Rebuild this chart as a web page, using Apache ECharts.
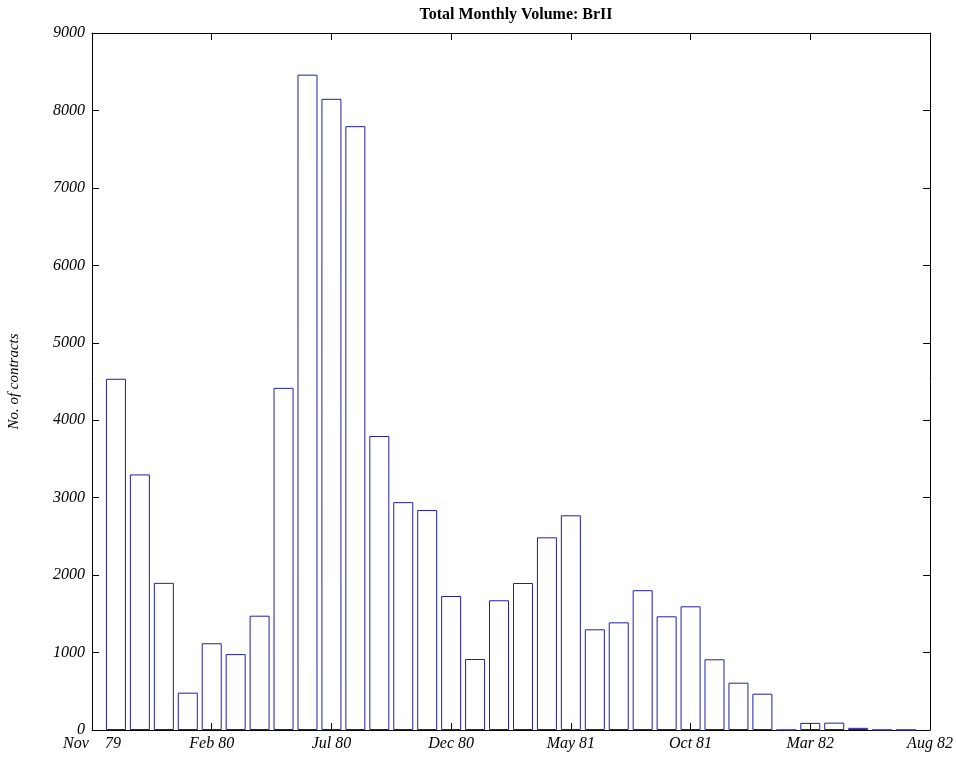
<!DOCTYPE html>
<html>
<head>
<meta charset="utf-8">
<script src="https://cdn.jsdelivr.net/npm/echarts@6/dist/echarts.min.js"></script>
<style>
html,body{margin:0;padding:0;background:#fff;}
#chart{width:956px;height:757px;}
</style>
</head>
<body>
<div id="chart"></div>
<script>
// Month index (1 = first bar) and monthly contract volumes
var months = [1,2,3,4,5,6,7,8,9,10,11,12,13,14,15,16,17,18,19,20,21,22,23,24,25,26,27,28,29,30,31,32,33,34];
var volumes = [4535,3300,1900,482,1120,980,1476,4418,8462,8150,7797,3796,2942,2840,1730,917,1675,1898,2488,2772,1300,1390,1805,1468,1597,913,611,469,0,92,95,28,0,0];
// Tick labels at every 5 months (axis 0..35)
var tickValues = [0,5,10,15,20,25,30,35];
var tickLabels = ['Nov    79','Feb 80','Jul 80','Dec 80','May 81','Oct 81','Mar 82','Aug 82'];

var seriesData = months.map(function(m,i){ return [m, volumes[i]]; });
var labelMap = {};
tickValues.forEach(function(v,i){ labelMap[v] = tickLabels[i]; });

var font = 'Liberation Serif';
var axisLine = {show:true, onZero:false, lineStyle:{color:'#000', width:1}};
var tick = {show:true, inside:true, length:7, lineStyle:{color:'#000', width:1}};

var chart = echarts.init(document.getElementById('chart'), null, {renderer:'canvas'});
chart.setOption({
  animation:false,
  backgroundColor:'#fff',
  title:{
    text:'Total Monthly Volume: BrII',
    left:511, top:2, textAlign:'center',
    textStyle:{fontFamily:font, fontWeight:'bold', fontSize:16, color:'#000'}
  },
  grid:{left:92, right:26, top:33, bottom:27, containLabel:false, outerBoundsMode:'none'},
  xAxis:[{
    type:'value', min:0, max:35, interval:5, position:'bottom',
    axisLine:axisLine, axisTick:tick, splitLine:{show:false},
    axisLabel:{show:true, showMinLabel:true, showMaxLabel:true, margin:6,
      fontFamily:font, fontStyle:'italic', fontSize:16, color:'#000',
      formatter:function(v){ return labelMap[v] !== undefined ? labelMap[v] : ''; }}
  },{
    type:'value', min:0, max:35, interval:5, position:'top',
    axisLine:axisLine, axisTick:tick, splitLine:{show:false}, axisLabel:{show:false}
  }],
  yAxis:[{
    type:'value', min:0, max:9000, interval:1000, position:'left',
    name:'No. of contracts', nameLocation:'middle', nameGap:70, nameRotate:90,
    nameTextStyle:{fontFamily:font, fontStyle:'italic', fontSize:15, color:'#000'},
    axisLine:axisLine, axisTick:tick, splitLine:{show:false},
    axisLabel:{show:true, margin:7, fontFamily:font, fontStyle:'italic', fontSize:16, color:'#000',
      formatter:function(v){ return String(v); }}
  },{
    type:'value', min:0, max:9000, interval:1000, position:'right',
    axisLine:axisLine, axisTick:tick, splitLine:{show:false}, axisLabel:{show:false}
  }],
  series:[{
    type:'bar',
    xAxisIndex:0, yAxisIndex:0,
    data:seriesData,
    barWidth:20,
    itemStyle:{color:'rgba(255,255,255,0)', borderColor:'#1f1fa6', borderWidth:1},
    emphasis:{disabled:true},
    z:1
  }]
});
</script>
</body>
</html>
